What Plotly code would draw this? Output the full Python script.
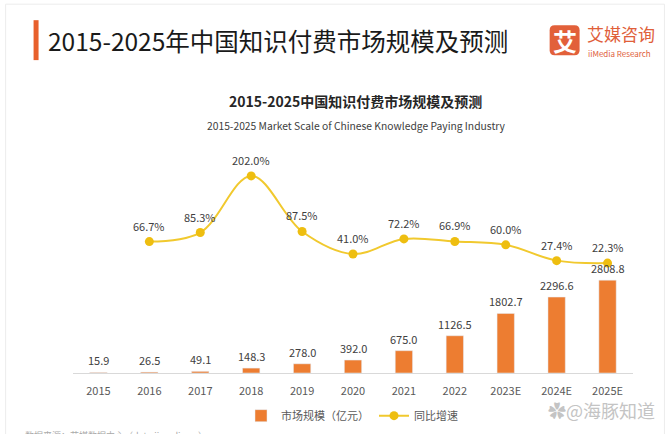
import plotly.graph_objects as go

years = ["2015", "2016", "2017", "2018", "2019", "2020", "2021", "2022", "2023E", "2024E", "2025E"]
market = [15.9, 26.5, 49.1, 148.3, 278.0, 392.0, 675.0, 1126.5, 1802.7, 2296.6, 2808.8]
growth = [None, 66.7, 85.3, 202.0, 87.5, 41.0, 72.2, 66.9, 60.0, 27.4, 22.3]

market_labels = [f"{v:.1f}" for v in market]
growth_labels = [None if g is None else f"{g:.1f}%" for g in growth]

W, H = 670, 434
L, R, T, B = 72.5, 633.5, 150.0, 373.3
FONT = "Noto Sans CJK SC"
BAR_COLOR = "#ED7D31"
LINE_COLOR = "#F1C92E"
MARKER_COLOR = "#EEBE10"
TXT = "#404040"


def px(x):
    return (x - L) / (R - L)


def py(y):
    return (B - y) / (B - T)


fig = go.Figure()
fig.add_trace(go.Bar(
    x=years, y=market, name="市场规模（亿元）", marker_color=BAR_COLOR,
    width=0.34, yaxis="y",
))
fig.add_trace(go.Scatter(
    x=years, y=growth, name="同比增速", mode="lines+markers",
    line=dict(color=LINE_COLOR, width=2, shape="spline", smoothing=1.0),
    marker=dict(color=MARKER_COLOR, size=9), yaxis="y2",
))

annotations = []
for i, (v, t) in enumerate(zip(market, market_labels)):
    annotations.append(dict(x=i, y=v, xref="x", yref="y", text=t, showarrow=False,
                            yanchor="middle", yshift=12,
                            font=dict(family=FONT, size=11, color=TXT)))
for i, (g, t) in enumerate(zip(growth, growth_labels)):
    if g is None:
        continue
    annotations.append(dict(x=i, y=g, xref="x", yref="y2", text=t, showarrow=False,
                            yanchor="middle", yshift=16,
                            font=dict(family=FONT, size=11, color=TXT)))

# header
annotations.append(dict(x=px(45), y=py(40), xref="paper", yref="paper",
                        text="2015-2025年中国知识付费市场规模及预测", showarrow=False,
                        xanchor="left", yanchor="middle",
                        font=dict(family=FONT, size=24.5, color="#1a1a1a")))
annotations.append(dict(x=px(565), y=py(40), xref="paper", yref="paper", text="<b>艾</b>",
                        showarrow=False, xanchor="center", yanchor="middle",
                        font=dict(family=FONT, size=24, color="white")))
annotations.append(dict(x=px(585), y=py(33), xref="paper", yref="paper", text="艾媒咨询",
                        showarrow=False, xanchor="left", yanchor="middle",
                        font=dict(family=FONT, size=17, color="#E0603A")))
annotations.append(dict(x=px(586), y=py(53), xref="paper", yref="paper", text="iiMedia Research",
                        showarrow=False, xanchor="left", yanchor="middle",
                        font=dict(family=FONT, size=8, color="#E0603A")))
# chart titles
annotations.append(dict(x=px(356), y=py(101), xref="paper", yref="paper",
                        text="<b>2015-2025中国知识付费市场规模及预测</b>", showarrow=False,
                        xanchor="center", yanchor="middle",
                        font=dict(family=FONT, size=14, color="#262626")))
annotations.append(dict(x=px(357), y=py(125), xref="paper", yref="paper",
                        text="2015-2025 Market Scale of Chinese Knowledge Paying Industry",
                        showarrow=False, xanchor="center", yanchor="middle",
                        font=dict(family=FONT, size=10.3, color="#404040")))
# source (cut off at bottom, as in the reference) and watermark
annotations.append(dict(x=px(22), y=py(436), xref="paper", yref="paper",
                        text="数据来源：艾媒数据中心（data.iimedia.cn）", showarrow=False,
                        xanchor="left", yanchor="middle",
                        font=dict(family=FONT, size=9, color="#aaaaaa")))
annotations.append(dict(x=px(658), y=py(410), xref="paper", yref="paper",
                        text="✿@海豚知道", showarrow=False, xanchor="right", yanchor="middle",
                        font=dict(family=FONT, size=18, color="#c4c4c4")))

# logo rounded square path
x0, x1, y0, y1, r = 550, 580, 25, 55, 5


def pt(x, y):
    return f"{px(x):.5f},{py(y):.5f}"


path = (f"M {pt(x0 + r, y0)} L {pt(x1 - r, y0)} Q {pt(x1, y0)} {pt(x1, y0 + r)} "
        f"L {pt(x1, y1 - r)} Q {pt(x1, y1)} {pt(x1 - r, y1)} L {pt(x0 + r, y1)} "
        f"Q {pt(x0, y1)} {pt(x0, y1 - r)} L {pt(x0, y0 + r)} Q {pt(x0, y0)} {pt(x0 + r, y0)} Z")

shapes = [
    dict(type="rect", xref="paper", yref="paper", x0=px(33), x1=px(38), y0=py(20), y1=py(60),
         fillcolor="#E8602C", line=dict(width=0)),
    dict(type="path", xref="paper", yref="paper", path=path, fillcolor="#E2603A",
         line=dict(width=0)),
    dict(type="rect", xref="paper", yref="paper", x0=px(5), x1=px(665), y0=py(4), y1=py(440),
         fillcolor="rgba(0,0,0,0)", line=dict(color="#ececec", width=1), layer="below"),
]

fig.update_layout(
    width=W, height=H,
    margin=dict(l=L, r=W - R, t=T, b=H - B, pad=0, autoexpand=False),
    paper_bgcolor="white", plot_bgcolor="white",
    font=dict(family=FONT, size=11, color=TXT),
    showlegend=True,
    legend=dict(orientation="h", x=px(352), y=py(416), xanchor="center", yanchor="middle",
                font=dict(family=FONT, size=11, color="#595959"), bgcolor="rgba(0,0,0,0)",
                itemwidth=30),
    xaxis=dict(type="category", range=[-0.5, 10.5], showgrid=False, zeroline=False,
               showline=True, linecolor="#D9D9D9", linewidth=1,
               ticks="outside", ticklen=8, tickcolor="rgba(0,0,0,0)",
               tickfont=dict(family=FONT, size=11, color="#595959")),
    yaxis=dict(range=[0, (B - T) / 0.0331], visible=False, showgrid=False, zeroline=False),
    yaxis2=dict(range=[-(B - 274.1) / 0.486, (274.1 - T) / 0.486], overlaying="y",
                side="right", visible=False, showgrid=False, zeroline=False),
    annotations=annotations,
    shapes=shapes,
    bargap=0.5,
)

fig.write_html("out.html")
